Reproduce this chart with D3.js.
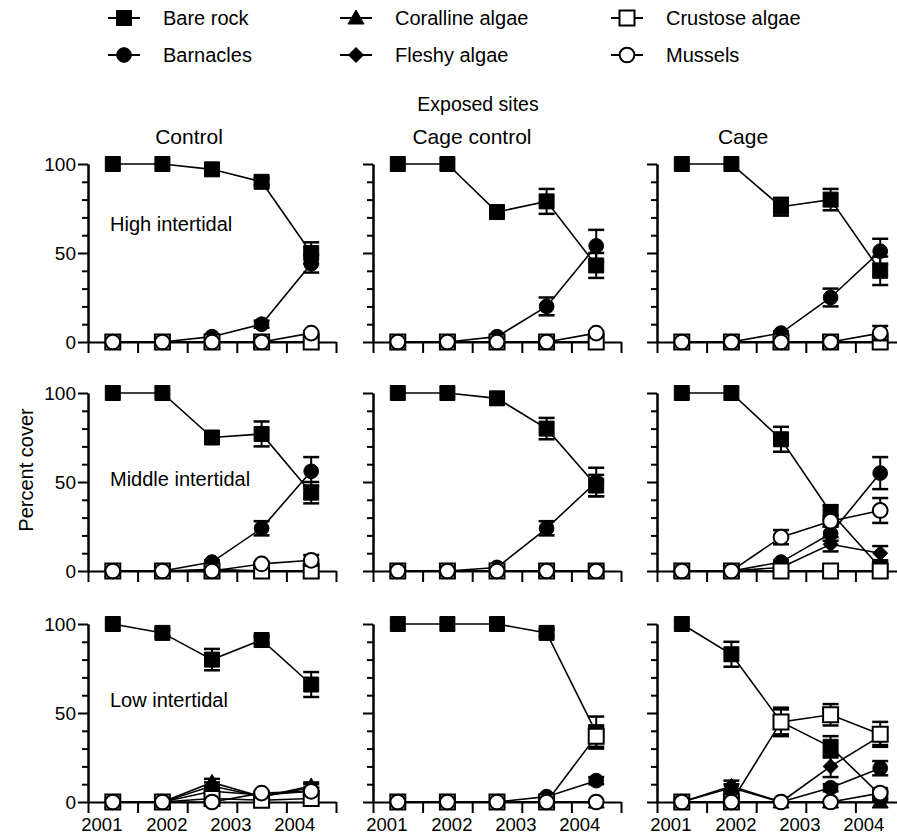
<!DOCTYPE html>
<html>
<head>
<meta charset="utf-8">
<script src="https://cdn.jsdelivr.net/npm/d3@7"></script>
<style>
  body { margin: 0; background: #fff; }
  text { font-family: "Liberation Sans", Arial, Helvetica, sans-serif; fill: #000; }
</style>
</head>
<body>
<svg id="chart" width="897" height="838"></svg>
<script>
// DATA
var sites = ['Control', 'Cage control', 'Cage'];
var zones = ['High intertidal', 'Middle intertidal', 'Low intertidal'];
var yearLabels = ['2001', '2002', '2003', '2004'];
var yearPos = [0.28, 1.59, 2.88, 4.17];      // along the survey axis
var surveyPos = [0.5, 1.5, 2.5, 3.5, 4.5];   // five surveys
var majorTicks = [0, 50, 100];
var minorTicks = [10, 20, 30, 40, 60, 70, 80, 90];

// each array: [zone][site] -> 5 surveys (percent cover)
var bareRock = [
  [[100, 100, 97, 90, 50], [100, 100, 73, 79, 43], [100, 100, 76, 80, 40]],
  [[100, 100, 75, 77, 44], [100, 100, 97, 80, 48], [100, 100, 74, 33, 2]],
  [[100, 95, 80, 91, 66], [100, 100, 100, 95, 39], [100, 83, 45, 31, 4]]
];
var bareRockErr = [
  [[0, 0, 1, 2, 6], [0, 0, 2, 7, 7], [0, 0, 5, 6, 8]],
  [[0, 0, 3, 7, 6], [0, 0, 2, 6, 6], [0, 0, 7, 4, 2]],
  [[0, 2, 6, 2, 7], [0, 0, 0, 2, 9], [0, 7, 8, 6, 2]]
];
var barnacles = [
  [[0, 0, 3, 10, 44], [0, 0, 3, 20, 54], [0, 0, 5, 25, 51]],
  [[0, 0, 5, 24, 56], [0, 0, 2, 24, 50], [0, 0, 5, 21, 55]],
  [[0, 0, 6, 4, 6], [0, 0, 0, 3, 12], [0, 0, 0, 8, 19]]
];
var barnaclesErr = [
  [[0, 0, 1, 2, 5], [0, 0, 1, 5, 9], [0, 0, 1, 5, 7]],
  [[0, 0, 1, 4, 8], [0, 0, 1, 4, 8], [0, 0, 1, 4, 9]],
  [[0, 0, 2, 1, 2], [0, 0, 0, 1, 2], [0, 0, 0, 2, 4]]
];
var coralline = [
  [[0, 0, 0, 0, 0], [0, 0, 0, 0, 0], [0, 0, 0, 0, 0]],
  [[0, 0, 0, 0, 0], [0, 0, 0, 0, 0], [0, 0, 0, 0, 0]],
  [[0, 0, 11, 3, 9], [0, 0, 0, 0, 0], [0, 8, 0, 0, 0]]
];
var corallineErr = [
  [[0, 0, 0, 0, 0], [0, 0, 0, 0, 0], [0, 0, 0, 0, 0]],
  [[0, 0, 0, 0, 0], [0, 0, 0, 0, 0], [0, 0, 0, 0, 0]],
  [[0, 0, 2, 1, 2], [0, 0, 0, 0, 0], [0, 2, 0, 0, 0]]
];
var fleshy = [
  [[0, 0, 0, 0, 0], [0, 0, 0, 0, 0], [0, 0, 0, 0, 0]],
  [[0, 0, 1, 0, 0], [0, 0, 0, 0, 0], [0, 0, 2, 15, 10]],
  [[0, 0, 9, 3, 8], [0, 0, 0, 0, 0], [0, 9, 0, 20, 37]]
];
var fleshyErr = [
  [[0, 0, 0, 0, 0], [0, 0, 0, 0, 0], [0, 0, 0, 0, 0]],
  [[0, 0, 0, 0, 0], [0, 0, 0, 0, 0], [0, 0, 0, 4, 4]],
  [[0, 0, 2, 1, 2], [0, 0, 0, 0, 0], [0, 3, 0, 6, 5]]
];
var crustose = [
  [[0, 0, 0, 0, 0], [0, 0, 0, 0, 0], [0, 0, 0, 0, 0]],
  [[0, 0, 0, 0, 0], [0, 0, 0, 0, 0], [0, 0, 0, 0, 0]],
  [[0, 0, 2, 1, 2], [0, 0, 0, 0, 37], [0, 0, 45, 49, 38]]
];
var crustoseErr = [
  [[0, 0, 0, 0, 0], [0, 0, 0, 0, 0], [0, 0, 0, 0, 0]],
  [[0, 0, 0, 0, 0], [0, 0, 0, 0, 0], [0, 0, 0, 0, 0]],
  [[0, 0, 0, 0, 0], [0, 0, 0, 0, 6], [0, 0, 7, 6, 7]]
];
var mussels = [
  [[0, 0, 0, 0, 5], [0, 0, 0, 0, 5], [0, 0, 0, 0, 5]],
  [[0, 0, 0, 4, 6], [0, 0, 0, 0, 0], [0, 0, 19, 28, 34]],
  [[0, 0, 0, 5, 6], [0, 0, 0, 0, 0], [0, 0, 0, 0, 5]]
];
var musselsErr = [
  [[0, 0, 0, 0, 1], [0, 0, 0, 0, 1], [0, 0, 0, 0, 4]],
  [[0, 0, 0, 1, 3], [0, 0, 0, 0, 0], [0, 0, 4, 3, 7]],
  [[0, 0, 0, 1, 2], [0, 0, 0, 0, 0], [0, 0, 0, 0, 1]]
];

// drawing order: filled first, open symbols on top
var series = [
  { name: 'Bare rock', values: bareRock, err: bareRockErr, shape: 'square', filled: true },
  { name: 'Barnacles', values: barnacles, err: barnaclesErr, shape: 'circle', filled: true },
  { name: 'Coralline algae', values: coralline, err: corallineErr, shape: 'triangle', filled: true },
  { name: 'Fleshy algae', values: fleshy, err: fleshyErr, shape: 'diamond', filled: true },
  { name: 'Crustose algae', values: crustose, err: crustoseErr, shape: 'square', filled: false },
  { name: 'Mussels', values: mussels, err: musselsErr, shape: 'circle', filled: false }
];
var legendOrder = ['Bare rock', 'Barnacles', 'Coralline algae', 'Fleshy algae', 'Crustose algae', 'Mussels'];

// LAYOUT
var colX = [88, 373, 657];
var rowY = [164, 393, 624];
var panelW = 248;
var panelH = 178;
var titleOffset = [101, 99, 86];
var zoneLabelDy = [60, 86, 76];

var svg = d3.select('#chart');

// MARKER PATHS
function markerPath(shape) {
  if (shape == 'square') return 'M-7.5,-7.5H7.5V7.5H-7.5Z';
  if (shape == 'circle') return d3.symbol(d3.symbolCircle, 170)();
  if (shape == 'triangle') return 'M0,-8L8,6H-8Z';
  return 'M0,-7.5L7.5,0L0,7.5L-7.5,0Z';
}

function drawMarker(g, s, px, py) {
  g.append('path')
    .attr('d', markerPath(s.shape))
    .attr('transform', 'translate(' + px + ',' + py + ')')
    .attr('fill', s.filled ? '#000' : '#fff')
    .attr('stroke', '#000')
    .attr('stroke-width', s.filled ? 1 : 2);
}

// HEADERS
svg.append('text').attr('x', 478).attr('y', 111)
  .attr('text-anchor', 'middle').style('font-size', '19.5px').text('Exposed sites');

sites.forEach(function(site, c) {
  svg.append('text').attr('x', colX[c] + titleOffset[c]).attr('y', 144)
    .attr('text-anchor', 'middle').style('font-size', '21px').text(site);
});

svg.append('text')
  .attr('transform', 'translate(33,470) rotate(-90)')
  .attr('text-anchor', 'middle').style('font-size', '20px').text('Percent cover');

// PANELS
zones.forEach(function(zone, r) {
  sites.forEach(function(site, c) {
    var x = d3.scaleLinear().domain([0, 5]).range([colX[c], colX[c] + panelW]);
    var y = d3.scaleLinear().domain([0, 100]).range([rowY[r] + panelH, rowY[r]]);
    var g = svg.append('g');

    var xAxis = g.append('g')
      .attr('transform', 'translate(0,' + y(0) + ')')
      .call(d3.axisBottom(x).tickValues(d3.range(0, 6)).tickSize(11).tickSizeOuter(0).tickFormat(''));

    var yMinor = g.append('g')
      .attr('transform', 'translate(' + x(0) + ',0)')
      .call(d3.axisLeft(y).tickValues(minorTicks).tickSize(6).tickSizeOuter(0).tickFormat(''));

    var yMajor = g.append('g')
      .attr('transform', 'translate(' + x(0) + ',0)')
      .call(d3.axisLeft(y).tickValues(majorTicks).tickSize(10).tickSizeOuter(0)
        .tickFormat(c == 0 ? d3.format('d') : function() { return ''; }));

    [xAxis, yMinor, yMajor].forEach(function(a) {
      a.selectAll('path, line').attr('stroke', '#000').attr('stroke-width', 2);
      a.selectAll('text').attr('font-family', null).style('font-size', '19px').attr('fill', '#000');
    });
    yMajor.selectAll('text').attr('x', -12);

    if (r == zones.length - 1) {
      yearLabels.forEach(function(lbl, i) {
        g.append('text').attr('x', x(yearPos[i])).attr('y', y(0) + 29)
          .attr('text-anchor', 'middle').style('font-size', '18.5px').text(lbl);
      });
    }

    if (c == 0) {
      g.append('text').attr('x', colX[0] + 22).attr('y', rowY[r] + zoneLabelDy[r])
        .attr('dy', '0.35em').style('font-size', '20px').text(zone);
    }

    var line = d3.line()
      .x(function(d, i) { return x(surveyPos[i]); })
      .y(function(d) { return y(d); });

    series.forEach(function(s) {
      var vals = s.values[r][c];
      var errs = s.err[r][c];
      g.append('path').datum(vals).attr('d', line)
        .attr('fill', 'none').attr('stroke', '#000').attr('stroke-width', 1.6);

      vals.forEach(function(v, i) {
        var e = errs[i];
        if (e > 0) {
          var px = x(surveyPos[i]);
          var lo = y(Math.max(0, v - e)), hi = y(v + e);
          g.append('line').attr('x1', px).attr('x2', px).attr('y1', lo).attr('y2', hi)
            .attr('stroke', '#000').attr('stroke-width', 2);
          [lo, hi].forEach(function(yy) {
            g.append('line').attr('x1', px - 8).attr('x2', px + 8).attr('y1', yy).attr('y2', yy)
              .attr('stroke', '#000').attr('stroke-width', 2.5);
          });
        }
      });
      vals.forEach(function(v, i) {
        drawMarker(g, s, x(surveyPos[i]), y(v));
      });
    });
  });
});

// LEGEND
var legendCols = [108, 340, 611];
var legendRows = [18, 55];
legendOrder.forEach(function(name, i) {
  var s = series.filter(function(d) { return d.name == name; })[0];
  var lx = legendCols[Math.floor(i / 2)];
  var ly = legendRows[i % 2];
  var lg = svg.append('g');
  lg.append('line').attr('x1', lx).attr('x2', lx + 32).attr('y1', ly).attr('y2', ly)
    .attr('stroke', '#000').attr('stroke-width', 2);
  drawMarker(lg, s, lx + 16, ly);
  lg.append('text').attr('x', lx + 55).attr('y', ly).attr('dy', '0.35em')
    .style('font-size', '20px').text(name);
});
</script>
</body>
</html>
